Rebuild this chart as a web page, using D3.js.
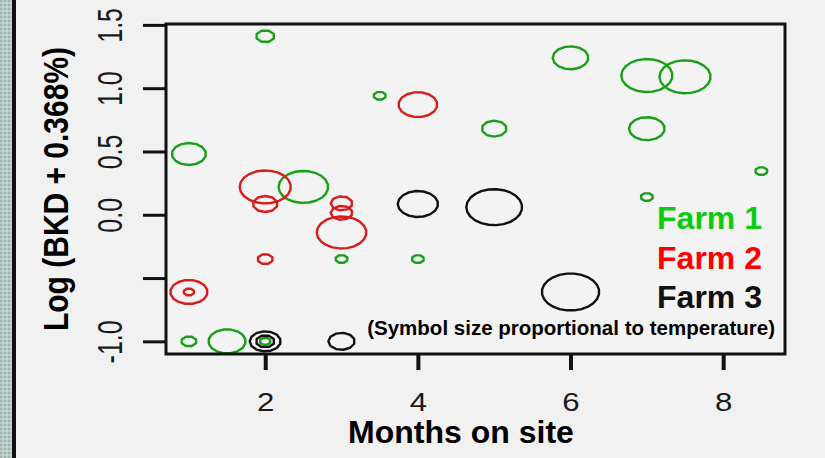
<!DOCTYPE html>
<html>
<head>
<meta charset="utf-8">
<script src="https://cdn.jsdelivr.net/npm/d3@7"></script>
<style>
  html, body { margin: 0; padding: 0; background: #f1f1f1; }
  svg { display: block; }
  text { font-family: "Liberation Sans", Arial, sans-serif; }
</style>
</head>
<body>
<script>
// Farm observations: months on site, log(BKD + 0.368%), symbol size (temperature)
const farm1Months = [2, 3.5, 1, 2.5, 5, 6, 7, 7.5, 7, 8.5, 7, 3, 4, 1, 1.5, 2];
const farm1Log    = [1.41, 0.94, 0.48, 0.22, 0.68, 1.24, 1.10, 1.09, 0.68, 0.345, 0.14, -0.35, -0.35, -1.0, -1.0, -1.0];
const farm1Size   = [1.2, 0.8, 2.2, 3.2, 1.6, 2.3, 3.3, 3.3, 2.3, 0.8, 0.8, 0.8, 0.8, 1.0, 2.4, 0.7];

const farm2Months = [4, 2, 2, 3, 3, 3, 2, 1, 1];
const farm2Log    = [0.87, 0.22, 0.085, 0.09, 0.015, -0.14, -0.35, -0.61, -0.61];
const farm2Size   = [2.5, 3.3, 1.6, 1.4, 1.4, 3.2, 1.0, 2.4, 0.7];

const farm3Months = [4, 5, 6, 2, 2, 3];
const farm3Log    = [0.085, 0.06, -0.61, -1.0, -1.0, -1.0];
const farm3Size   = [2.6, 3.6, 3.7, 2.0, 1.2, 1.7];

const farmNames  = ["Farm 1", "Farm 2", "Farm 3"];
const xTicks     = [2, 4, 6, 8];
const yTicks     = [-1.0, -0.5, 0.0, 0.5, 1.0, 1.5];
const yTickText  = ["-1.0", "", "0.0", "0.5", "1.0", "1.5"];
const xTitle     = "Months on site";
const yTitle     = "Log (BKD + 0.368%)";
const sizeNote   = "(Symbol size proportional to temperature)";

const W = 825, H = 458;
const strokeCol = ["#17a017", "#d81c1c", "#111111"];
const legendCol = ["#0fcb0f", "#ff0000", "#111111"];

const svg = d3.select("body").append("svg").attr("width", W).attr("height", H);

// slide frame on the left edge
const defs = svg.append("defs");
const pat = defs.append("pattern").attr("id", "weave")
  .attr("width", 4).attr("height", 4).attr("patternUnits", "userSpaceOnUse");
pat.append("rect").attr("width", 4).attr("height", 4).attr("fill", "#b4cfcb");
pat.append("rect").attr("width", 2).attr("height", 2).attr("fill", "#a9b0a8");
pat.append("rect").attr("x", 2).attr("y", 2).attr("width", 2).attr("height", 2).attr("fill", "#c3dad6");
svg.append("rect").attr("x", 0).attr("y", 0).attr("width", 13).attr("height", H).attr("fill", "url(#weave)");
svg.append("rect").attr("x", 12).attr("y", 0).attr("width", 4).attr("height", H).attr("fill", "#111");

const pLeft = 166, pRight = 785, pTop = 24, pBottom = 354;
const x = d3.scaleLinear().domain([0.7, 8.81]).range([pLeft, pRight]);
const y = d3.scaleLinear().domain([-1.1, 1.507]).range([pBottom, pTop]);
const r = d3.scaleLinear().domain([0, 1]).range([0, 5]);   // symbol size -> vertical radius
const aspect = 1.55;                                         // horizontal stretch of symbols

// plot panel
svg.append("rect").attr("x", pLeft).attr("y", pTop)
  .attr("width", pRight - pLeft).attr("height", pBottom - pTop)
  .attr("fill", "#f3f3f3").attr("stroke", "none");

// symbols drawn as polygons, like the device's circle rendering
const line = d3.line().curve(d3.curveLinearClosed);
function ring(cx, cy, ry) {
  const rx = ry * aspect;
  const n = Math.max(8, Math.round(ry * 1.3));
  return line(d3.range(n).map(i => {
    const a = (i / n) * 2 * Math.PI + Math.PI / n;
    return [cx + rx * Math.cos(a), cy + ry * Math.sin(a)];
  }));
}

const farms = [
  { months: farm1Months, log: farm1Log, size: farm1Size },
  { months: farm2Months, log: farm2Log, size: farm2Size },
  { months: farm3Months, log: farm3Log, size: farm3Size }
];

farms.forEach((f, k) => {
  const pts = f.months.map((m, i) => ({ m, v: f.log[i], s: f.size[i] }));
  svg.append("g").selectAll("path").data(pts).join("path")
    .attr("d", d => ring(x(d.m), y(d.v), r(d.s)))
    .attr("fill", "none")
    .attr("stroke", strokeCol[k])
    .attr("stroke-width", 2.4)
    .attr("stroke-linejoin", "round");
});

// frame
svg.append("rect").attr("x", pLeft).attr("y", pTop)
  .attr("width", pRight - pLeft).attr("height", pBottom - pTop)
  .attr("fill", "none").attr("stroke", "#111").attr("stroke-width", 3);

// y axis
const yAxis = svg.append("g").attr("transform", `translate(${pLeft},0)`)
  .call(d3.axisLeft(y).tickValues(yTicks).tickSize(23).tickFormat((d, i) => yTickText[i]));
yAxis.select(".domain").remove();
yAxis.selectAll(".tick line").attr("stroke", "#111").attr("stroke-width", 3);
yAxis.selectAll(".tick text")
  .attr("x", 0).attr("dy", 0).attr("text-anchor", "middle")
  .attr("transform", "translate(-44,0) rotate(-90) scale(1,1.4)")
  .attr("font-size", 25).attr("fill", "#1a1a1a");

// x axis
const xAxis = svg.append("g").attr("transform", `translate(0,${pBottom})`)
  .call(d3.axisBottom(x).tickValues(xTicks).tickSize(16).tickFormat(d3.format("d")));
xAxis.select(".domain").remove();
xAxis.selectAll(".tick line").attr("stroke", "#111").attr("stroke-width", 4);
xAxis.selectAll(".tick text")
  .attr("y", 57).attr("dy", 0).attr("text-anchor", "middle")
  .attr("transform", "scale(1.2,1)")
  .attr("font-size", 26).attr("fill", "#1a1a1a");

// axis titles
svg.append("text").attr("x", 461).attr("y", 443).attr("text-anchor", "middle")
  .attr("font-size", 32).attr("font-weight", "bold").attr("fill", "#000").text(xTitle);
svg.append("text").attr("transform", "translate(68,189) rotate(-90) scale(1,1.15)").attr("text-anchor", "middle")
  .attr("font-size", 30).attr("font-weight", "bold").attr("fill", "#000").text(yTitle);

// legend
svg.append("g").selectAll("text").data(farmNames).join("text")
  .attr("x", 762).attr("y", (d, i) => 229 + i * 39.5)
  .attr("text-anchor", "end")
  .attr("font-size", 32).attr("font-weight", "bold")
  .attr("fill", (d, i) => legendCol[i]).text(d => d);
svg.append("text").attr("x", 775).attr("y", 335).attr("text-anchor", "end")
  .attr("font-size", 20.5).attr("font-weight", "bold").attr("fill", "#000").text(sizeNote);
</script>
</body>
</html>
